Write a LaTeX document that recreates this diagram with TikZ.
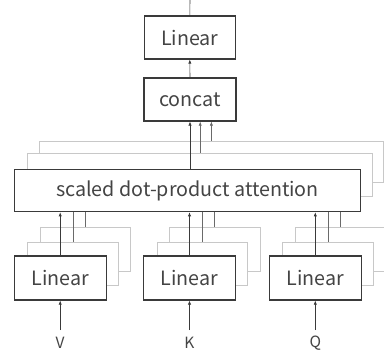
\documentclass[tikz,border=0pt]{standalone}
\usepackage{fontspec}
\setmainfont{Noto Sans CJK SC}
\usetikzlibrary{arrows.meta}
\definecolor{boxline}{HTML}{3A3A3A}
\definecolor{backline}{HTML}{C8C8C8}
\definecolor{linkline}{HTML}{6A6A6A}
\definecolor{txt}{HTML}{444444}
\tikzset{
  mainbox/.style={draw=boxline, line width=1.1pt, fill=white, text=txt,
    font=\fontsize{19.7}{19.7}\selectfont, inner sep=0pt},
  backbox/.style={draw=backline, line width=0.9pt, fill=white, inner sep=0pt},
  arr/.style={draw=boxline, line width=0.6pt, -{Latex[length=4pt,width=3.2pt]}},
  link/.style={draw=linkline, line width=0.6pt},
  linkarr/.style={link, -{Latex[length=4pt,width=3.2pt]}},
  inlabel/.style={text=txt, font=\fontsize{15.5}{15.5}\selectfont, inner sep=0pt}
}
\begin{document}
\begin{tikzpicture}[x=1pt, y=-1pt]
\useasboundingbox (0,0) rectangle (384,354);
\clip (0,0) rectangle (384,354);

% output stage
\node[mainbox, minimum width=91.5pt, minimum height=43pt] (lin) at (189.8,37.5) {Linear};
\node[mainbox, minimum width=92pt, minimum height=43pt] (cat) at (190,99.5) {concat};
\coordinate (out) at (190,0);
\draw[boxline, line width=0.6pt] (lin.north) -- (out);
\draw[arr] (cat.north) -- (lin.south);

% attention heads, back to front
\node[backbox, minimum width=344pt, minimum height=41.3pt] (att3) at (211.4,161.7) {};
\node[backbox, minimum width=345pt, minimum height=42.7pt] (att2) at (200.2,174.7) {};
\node[mainbox, minimum width=346.4pt, minimum height=42.4pt] (att) at (187.5,190.5) {scaled dot-product attention};

% heads into concat
\draw[arr] (att.north -| cat.south) -- (cat.south);
\draw[linkarr] (att2.north) -- (att2.north |- cat.south);
\draw[linkarr] (att3.north) -- (att3.north |- cat.south);

% projections of V, K and Q
\foreach \nm/\cx/\lab in {v/60.2/V, k/189.5/K, q/315.3/Q} {
  \node[backbox, minimum width=90.7pt, minimum height=43.7pt] (\nm3) at (\cx+25.2,249.2) {};
  \node[backbox, minimum width=90.6pt, minimum height=42.7pt] (\nm2) at (\cx+12.8,263.7) {};
  \node[mainbox, minimum width=91.7pt, minimum height=44pt] (\nm) at (\cx,278) {Linear};
  \node[inlabel] (\nm in) at (\cx,343) {\lab};
  \coordinate (\nm src) at (\cx,330);
  \draw[arr] (\nm src) -- (\nm.south);
  \draw[arr] (\nm.north) -- (\nm.north |- att.south);
  \draw[link] (\nm2.north) -- (\nm2.north |- att.south);
  \draw[link] (\nm3.north) -- (\nm3.north |- att.south);
}
\end{tikzpicture}
\end{document}
